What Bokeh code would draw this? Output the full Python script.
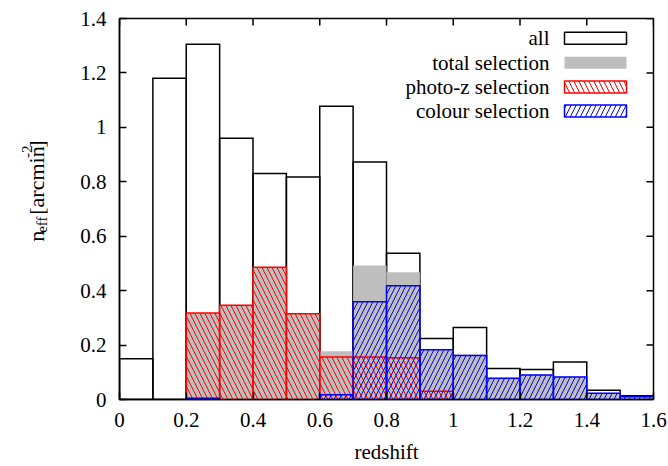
import math
from bokeh.plotting import figure
from bokeh.layouts import row
from bokeh.models import FixedTicker, Range1d, Label, BoxAnnotation, ColumnDataSource
from bokeh.embed import file_html
from bokeh.resources import INLINE

# ---------------- data ----------------
bin_lo = [0.0, 0.1, 0.2, 0.3, 0.4, 0.5, 0.6, 0.7, 0.8, 0.9, 1.0, 1.1, 1.2, 1.3, 1.4, 1.5]
bin_hi = [0.1, 0.2, 0.3, 0.4, 0.5, 0.6, 0.7, 0.8, 0.9, 1.0, 1.1, 1.2, 1.3, 1.4, 1.5, 1.6]
n_all = [0.150, 1.180, 1.305, 0.960, 0.830, 0.818, 1.078, 0.873, 0.537, 0.224,
         0.265, 0.114, 0.110, 0.138, 0.034, 0.014]
n_total = [0.0, 0.0, 0.318, 0.346, 0.486, 0.315, 0.177, 0.492, 0.468, 0.186,
           0.165, 0.080, 0.092, 0.085, 0.025, 0.012]
n_photoz = [0.0, 0.0, 0.318, 0.346, 0.486, 0.315, 0.156, 0.156, 0.153, 0.030,
            0.0, 0.0, 0.0, 0.0, 0.0, 0.0]
n_colour = [0.0, 0.0, 0.005, 0.0, 0.0, 0.0, 0.017, 0.359, 0.418, 0.183,
            0.162, 0.078, 0.090, 0.083, 0.023, 0.010]

x_ticks = [0.0, 0.2, 0.4, 0.6, 0.8, 1.0, 1.2, 1.4, 1.6]
x_tick_labels = ["0", "0.2", "0.4", "0.6", "0.8", "1", "1.2", "1.4", "1.6"]
y_ticks = [0.0, 0.2, 0.4, 0.6, 0.8, 1.0, 1.2, 1.4]
y_tick_labels = ["0", "0.2", "0.4", "0.6", "0.8", "1", "1.2", "1.4"]
legend_labels = ["all", "total selection", "photo-z selection", "colour selection"]
x_title = "redshift"
y_title_pieces = ["n", "eff", "[arcmin", "-2", "]"]

# ---------------- layout ----------------
FONT = "Liberation Serif"
FS = "21px"
W, H = 668, 466
LW = 60                                 # width of the y-title strip
FL, FR, FT, FB = 119, 653, 18, 400      # frame edges in page px
XMIN, XMAX, YMIN, YMAX = 0.0, 1.6, 0.0, 1.4
TICK = 7


def px_x(sx):
    return XMIN + (sx - FL) / (FR - FL) * (XMAX - XMIN)


def px_y(sy):
    return YMIN + (FB - sy) / (FB - FT) * (YMAX - YMIN)


p = figure(width=W - LW, height=H, x_range=Range1d(XMIN, XMAX), y_range=Range1d(YMIN, YMAX),
           output_backend="svg", toolbar_location=None,
           min_border_left=FL - LW, min_border_right=W - FR,
           min_border_top=FT, min_border_bottom=H - FB)
p.grid.visible = False
p.outline_line_color = "black"
p.outline_line_width = 1.5
p.background_fill_color = "white"
p.border_fill_color = "white"


def subset(vals):
    idx = [i for i, v in enumerate(vals) if v > 0]
    return ColumnDataSource(dict(left=[bin_lo[i] for i in idx],
                                 right=[bin_hi[i] for i in idx],
                                 top=[vals[i] for i in idx]))


# all
p.quad(left="left", right="right", bottom=0, top="top", source=subset(n_all),
       fill_color=None, line_color="black", line_width=1.5, line_join="miter")
# total selection
p.quad(left="left", right="right", bottom=0, top="top", source=subset(n_total),
       fill_color="#bebebe", line_color=None)
# photo-z selection
p.quad(left="left", right="right", bottom=0, top="top", source=subset(n_photoz),
       fill_color=None, line_color="#ff0000", line_width=1.5, line_join="miter",
       hatch_pattern="\\", hatch_color="#ff0000", hatch_scale=10, hatch_weight=1)
# colour selection
p.quad(left="left", right="right", bottom=0, top="top", source=subset(n_colour),
       fill_color=None, line_color="#0000ff", line_width=1.5, line_join="miter",
       hatch_pattern="/", hatch_color="#0000ff", hatch_scale=10, hatch_weight=1)

# mirrored inward ticks on the top and right edges
tx = TICK / (FR - FL) * (XMAX - XMIN)
ty = TICK / (FB - FT) * (YMAX - YMIN)
p.segment(x0=x_ticks, y0=[YMAX] * len(x_ticks), x1=x_ticks, y1=[YMAX - ty] * len(x_ticks),
          line_color="black", line_width=1.5)
p.segment(x0=[XMAX] * len(y_ticks), y0=y_ticks, x1=[XMAX - tx] * len(y_ticks), y1=y_ticks,
          line_color="black", line_width=1.5)


def style_axis(ax, ticks, labels):
    ax.ticker = FixedTicker(ticks=ticks)
    ax.major_label_overrides = {t: l for t, l in zip(ticks, labels)}
    ax.major_tick_in = TICK
    ax.major_tick_out = 0
    ax.minor_tick_in = 0
    ax.minor_tick_out = 0
    ax.axis_line_width = 1.5
    ax.axis_line_color = "black"
    ax.major_tick_line_width = 1.5
    ax.major_tick_line_color = "black"
    ax.major_label_text_font = FONT
    ax.major_label_text_font_style = "normal"
    ax.major_label_text_color = "black"
    ax.major_label_text_font_size = FS
    ax.major_label_standoff = 13


style_axis(p.xaxis[0], x_ticks, x_tick_labels)
style_axis(p.yaxis[0], y_ticks, y_tick_labels)
p.xaxis[0].axis_label = x_title
p.xaxis[0].axis_label_text_font = FONT
p.xaxis[0].axis_label_text_font_size = FS
p.xaxis[0].axis_label_text_font_style = "normal"
p.xaxis[0].axis_label_text_color = "black"
p.xaxis[0].axis_label_standoff = 10

# legend (text right-aligned, sample box on the right)
row_y = [37.7, 62.3, 86.7, 110.7]
text_right = 549
box_l, box_r, box_h = 564, 626, 12
styles = [
    dict(fill_color="white", line_color="black", line_width=1.5),
    dict(fill_color="#bebebe", line_color=None),
    dict(fill_color="white", line_color="#ff0000", line_width=1.5,
         hatch_pattern="\\", hatch_color="#ff0000", hatch_scale=10, hatch_weight=1),
    dict(fill_color="white", line_color="#0000ff", line_width=1.5,
         hatch_pattern="/", hatch_color="#0000ff", hatch_scale=10, hatch_weight=1),
]
for lab, ry, st in zip(legend_labels, row_y, styles):
    p.add_layout(Label(x=px_x(text_right), y=px_y(ry), text=lab, text_font=FONT,
                       text_font_style="normal", text_font_size=FS, text_color="black",
                       text_align="right", text_baseline="middle"))
    p.add_layout(BoxAnnotation(left=px_x(box_l), right=px_x(box_r),
                               top=px_y(ry - box_h / 2), bottom=px_y(ry + box_h / 2),
                               fill_alpha=1, line_alpha=1, **st))

# ---------------- y-title strip (pixel coordinates) ----------------
q = figure(width=LW, height=H, x_range=Range1d(0, LW), y_range=Range1d(0, H),
           output_backend="svg", toolbar_location=None,
           x_axis_type=None, y_axis_type=None,
           min_border_left=0, min_border_right=0, min_border_top=0, min_border_bottom=0)
q.grid.visible = False
q.outline_line_color = None
q.background_fill_color = "white"
q.border_fill_color = "white"

W_EM = {"n": .5, "e": .444, "f": .333, " ": .25, "[": .333, "a": .444, "r": .333,
        "c": .444, "m": .778, "i": .278, "]": .333, "-": .333, "2": .5}
sizes = [22, 15, 22, 15, 22]
shifts = [0, 5, 0, -10, 0]           # + = towards baseline-down (right)
gaps = [0, 0, 0.25 * 22, 1, 0]       # space before a piece
widths = [sum(W_EM[ch] for ch in t) * fs for t, fs in zip(y_title_pieces, sizes)]
total_len = sum(widths) + sum(gaps)
base_x = 36
cur = 212 + total_len / 2             # page y of the text start (bottom)
for t, fs, sh, w, g in zip(y_title_pieces, sizes, shifts, widths, gaps):
    cur -= g
    q.add_layout(Label(x=base_x + sh, y=H - cur, text=t, angle=math.pi / 2,
                       text_font=FONT, text_font_style="normal",
                       text_font_size=f"{fs}px", text_color="black",
                       text_align="left", text_baseline="alphabetic"))
    cur -= w

layout = row(q, p, spacing=0)
open("out.html", "w").write(file_html(layout, INLINE))
